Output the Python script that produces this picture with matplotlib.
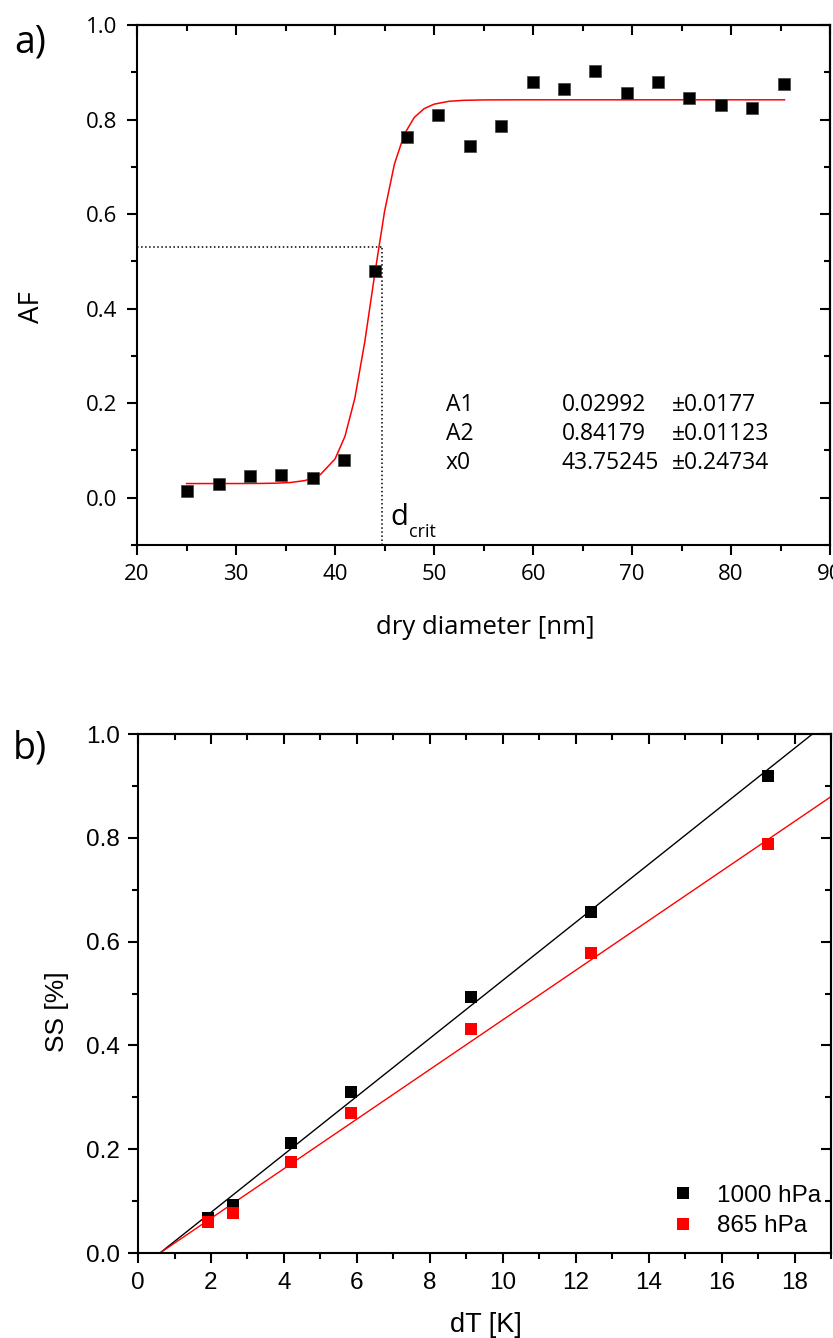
import matplotlib.pyplot as plt
import numpy as np
from matplotlib.ticker import MultipleLocator

# panel a: activated fraction vs dry diameter
diam_nm = [25.05, 28.3, 31.4, 34.5, 37.8, 40.9, 44.0, 47.3, 50.4, 53.6,
           56.8, 60.0, 63.1, 66.3, 69.5, 72.6, 75.8, 79.0, 82.1, 85.3]
af = [0.015, 0.030, 0.045, 0.048, 0.042, 0.080, 0.480, 0.763, 0.810, 0.745,
      0.787, 0.880, 0.865, 0.902, 0.857, 0.880, 0.845, 0.830, 0.825, 0.875]
fit_a1, fit_a2, fit_x0, fit_dx = 0.02992, 0.84179, 43.75245, 1.4
fit_x = [25.0, 26.5, 28.0, 29.5, 31.0, 32.5, 34.0, 35.5, 37.0, 38.5, 40.0,
         41.0, 42.0, 43.0, 44.0, 45.0, 46.0, 47.0, 48.0, 49.0, 50.0, 51.5,
         53.0, 55.0, 58.0, 62.0, 66.0, 70.0, 75.0, 80.0, 85.4]
d_crit = 44.7
af_crit = 0.53
param_rows = [("A1", "0.02992", "\u00b10.0177"),
              ("A2", "0.84179", "\u00b10.01123"),
              ("x0", "43.75245", "\u00b10.24734")]

# panel b: supersaturation vs temperature difference
dT = [1.92, 2.6, 4.19, 5.83, 9.12, 12.42, 17.28]
ss_1000 = [0.067, 0.093, 0.212, 0.310, 0.493, 0.657, 0.920]
ss_865 = [0.059, 0.077, 0.175, 0.269, 0.432, 0.578, 0.789]
line_1000 = (0.0559, -0.0335)
line_865 = (0.0478, -0.0287)
line_x = [0.6, 19.0]

FONT_A = ["Open Sans", "DejaVu Sans"]
FONT_B = ["Liberation Sans", "DejaVu Sans"]
W, H = 833, 1338


def px(x, y):
    # pixel position (from top-left) to figure fraction
    return x / W, 1 - y / H


def style_axes(ax, font, size, xstep, ystep, xpad, ypad):
    for spine in ax.spines.values():
        spine.set_linewidth(1.5)
    ax.xaxis.set_major_locator(MultipleLocator(xstep))
    ax.xaxis.set_minor_locator(MultipleLocator(xstep / 2))
    ax.yaxis.set_major_locator(MultipleLocator(ystep))
    ax.yaxis.set_minor_locator(MultipleLocator(ystep / 2))
    ax.tick_params(which="both", direction="out", top=False, right=False, width=1.5)
    ax.tick_params(which="major", length=7, labelsize=size)
    ax.tick_params(which="minor", length=4)
    ax.tick_params(axis="x", pad=xpad)
    ax.tick_params(axis="y", pad=ypad)
    for lab in ax.get_xticklabels() + ax.get_yticklabels():
        lab.set_family(font)
    # mirrored ticks pointing inward on top and right
    sec_x = ax.secondary_xaxis("top")
    sec_y = ax.secondary_yaxis("right")
    for sec, axis, step in ((sec_x, sec_x.xaxis, xstep), (sec_y, sec_y.yaxis, ystep)):
        axis.set_major_locator(MultipleLocator(step))
        axis.set_minor_locator(MultipleLocator(step / 2))
        sec.tick_params(which="both", direction="in", width=1.5)
        sec.tick_params(which="major", length=7)
        sec.tick_params(which="minor", length=4)
        axis.set_ticklabels([])
        for spine in sec.spines.values():
            spine.set_linewidth(1.5)


fig = plt.figure(figsize=(W / 100, H / 100), dpi=100)

# ---- panel a
ax1 = fig.add_axes([0.1645, 0.5927, 0.832, 0.3886])
fx = np.array(fit_x)
fy = fit_a2 + (fit_a1 - fit_a2) / (1 + np.exp((fx - fit_x0) / fit_dx))
ax1.plot(fx, fy, color="red", lw=1.1)
ax1.plot(diam_nm, af, "s", color="black", ms=8.5, mec="#444444", mew=0.5)
ax1.plot([20, d_crit], [af_crit, af_crit], ":", color="black", lw=1.1)
ax1.plot([d_crit, d_crit], [-0.1, af_crit], ":", color="black", lw=1.1)
ax1.text(45.6, -0.057, "d", fontsize=21, family=FONT_A, va="baseline")
ax1.text(47.5, -0.084, "crit", fontsize=13, family=FONT_A, va="baseline")
for i, (name, val, err) in enumerate(param_rows):
    yy = 0.1835 - 0.0612 * i
    ax1.text(51.2, yy, name, fontsize=16.5, family=FONT_A, va="baseline")
    ax1.text(62.9, yy, val, fontsize=16.5, family=FONT_A, va="baseline")
    ax1.text(74.0, yy, err, fontsize=16.5, family=FONT_A, va="baseline")
ax1.set_xlim(20, 90)
ax1.set_ylim(-0.1, 1.0)
style_axes(ax1, FONT_A, 16, 10, 0.2, 7, 7.5)
fig.text(*px(485, 628), "dry diameter [nm]", fontsize=18.5, family=FONT_A,
         ha="center", va="center")
fig.text(*px(32, 307), "AF", fontsize=20, family=FONT_A, rotation=90,
         ha="center", va="center")
fig.text(*px(30, 42), "a)", fontsize=27, family=FONT_A, ha="center", va="center")

# ---- panel b
ax2 = fig.add_axes([0.1657, 0.0635, 0.832, 0.3879])
lx = np.array(line_x)
ax2.plot(lx, line_1000[0] * lx + line_1000[1], color="black", lw=1.0)
ax2.plot(lx, line_865[0] * lx + line_865[1], color="red", lw=1.0)
ax2.plot(dT, ss_1000, "s", color="black", ms=8, mew=0, label="1000 hPa")
ax2.plot(dT, ss_865, "s", color="red", ms=8, mew=0, label="865 hPa")
ax2.set_xlim(0, 19)
ax2.set_ylim(0, 1.0)
style_axes(ax2, FONT_B, 17.5, 2, 0.2, 7, 6)
fig.text(*px(486, 1325), "dT [K]", fontsize=19.5, family=FONT_B,
         ha="center", va="center")
fig.text(*px(57, 1012), "SS [%]", fontsize=19, family=FONT_B, rotation=90,
         ha="center", va="center")
ax2.legend(loc="lower right", frameon=False, prop={"family": FONT_B, "size": 17.5},
           handlelength=1.0, handletextpad=0.9, labelspacing=0.35,
           borderaxespad=0.0, bbox_to_anchor=(1.0, 0.012))
fig.text(*px(30, 748), "b)", fontsize=27, family=FONT_A, ha="center", va="center")

fig.savefig("out.png", dpi=100)
